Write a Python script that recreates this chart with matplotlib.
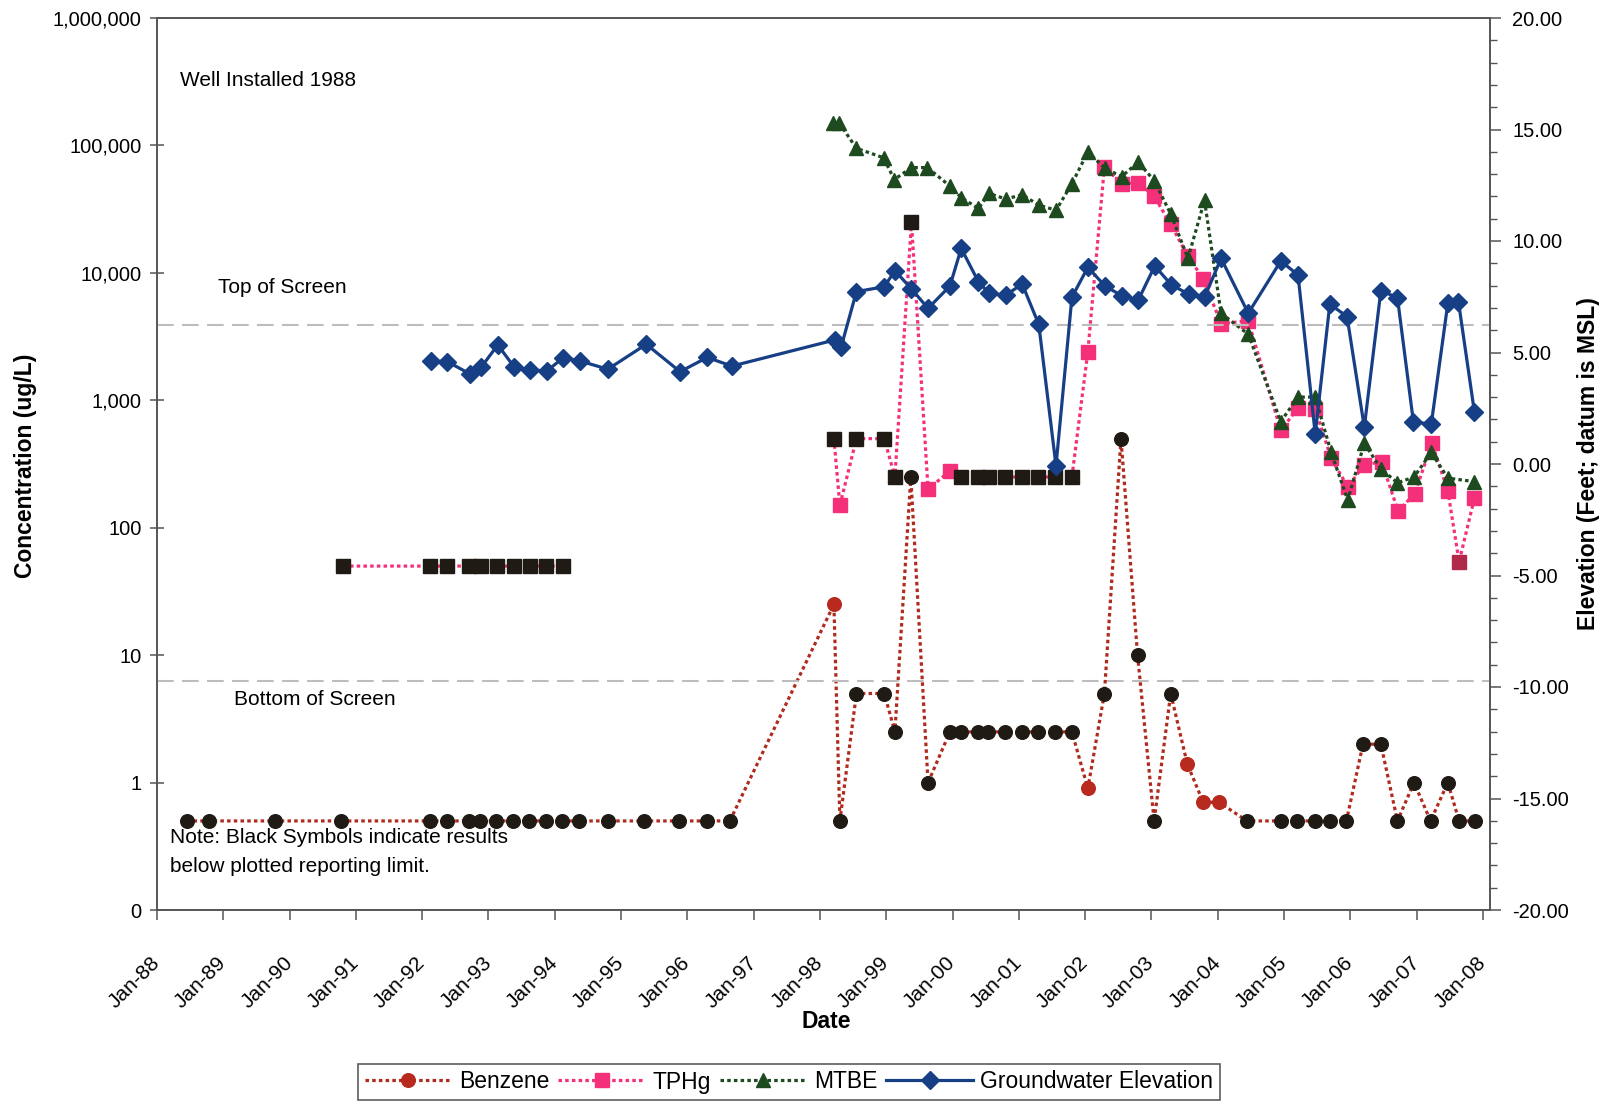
import matplotlib
matplotlib.use("Agg")
import matplotlib.pyplot as plt
from matplotlib.lines import Line2D
from matplotlib.ticker import FixedLocator, FuncFormatter, MultipleLocator
import numpy as np

plt.rcParams['font.family'] = ['Liberation Sans', 'DejaVu Sans']

# ==============================================================
# Monitoring data (sample dates in decimal years)
# nd = 1 -> result below reporting limit, plotted in black
# ==============================================================
benz_year = [1988.45, 1988.78, 1989.78, 1990.78, 1992.12, 1992.37, 1992.70, 1992.87,
             1993.12, 1993.37, 1993.61, 1993.86, 1994.11, 1994.36, 1994.81, 1995.34,
             1995.88, 1996.30, 1996.64, 1998.21, 1998.30, 1998.55, 1998.97, 1999.13,
             1999.37, 1999.63, 1999.96, 2000.12, 2000.38, 2000.54, 2000.79, 2001.04,
             2001.29, 2001.54, 2001.80, 2002.04, 2002.29, 2002.54, 2002.79, 2003.04,
             2003.29, 2003.54, 2003.78, 2004.02, 2004.44, 2004.95, 2005.20, 2005.46,
             2005.69, 2005.94, 2006.19, 2006.46, 2006.71, 2006.96, 2007.21, 2007.47,
             2007.64, 2007.88]
benz_ugl = [0.5, 0.5, 0.5, 0.5, 0.5, 0.5, 0.5, 0.5,
            0.5, 0.5, 0.5, 0.5, 0.5, 0.5, 0.5, 0.5,
            0.5, 0.5, 0.5, 25, 0.5, 5, 5, 2.5,
            250, 1, 2.5, 2.5, 2.5, 2.5, 2.5, 2.5,
            2.5, 2.5, 2.5, 0.9, 5, 500, 10, 0.5,
            5, 1.4, 0.7, 0.7, 0.5, 0.5, 0.5, 0.5,
            0.5, 0.5, 2, 2, 0.5, 1, 0.5, 1,
            0.5, 0.5]
benz_nd = [1, 1, 1, 1, 1, 1, 1, 1,
           1, 1, 1, 1, 1, 1, 1, 1,
           1, 1, 1, 0, 1, 1, 1, 1,
           1, 1, 1, 1, 1, 1, 1, 1,
           1, 1, 1, 0, 1, 1, 1, 1,
           1, 0, 0, 0, 1, 1, 1, 1,
           1, 1, 1, 1, 1, 1, 1, 1,
           1, 1]

# TPHg: None marks the break in the record between 1994 and 1998
tph_year = [1990.81, 1992.12, 1992.38, 1992.71, 1992.88, 1993.13, 1993.38, 1993.62,
            1993.87, 1994.12, 1996.30, 1998.21, 1998.30, 1998.55, 1998.97, 1999.13,
            1999.38, 1999.63, 1999.96, 2000.13, 2000.39, 2000.55, 2000.79, 2001.04,
            2001.29, 2001.54, 2001.80, 2002.04, 2002.29, 2002.55, 2002.80, 2003.04,
            2003.29, 2003.55, 2003.78, 2004.05, 2004.46, 2004.95, 2005.21, 2005.47,
            2005.71, 2005.96, 2006.21, 2006.47, 2006.72, 2006.97, 2007.23, 2007.47,
            2007.64, 2007.87]
tph_ugl = [50, 50, 50, 50, 50, 50, 50, 50,
           50, 50, None, 500, 150, 500, 500, 250,
           25000, 200, 280, 250, 250, 250, 250, 250,
           250, 250, 250, 2400, 68000, 50000, 51000, 40000,
           24000, 13500, 9000, 4000, 4200, 580, 870, 850,
           350, 210, 310, 330, 135, 185, 460, 195,
           54, 170]
# 0 = detected, 1 = below reporting limit, 2 = qualified result
tph_flag = [1, 1, 1, 1, 1, 1, 1, 1,
            1, 1, 0, 1, 0, 1, 1, 1,
            1, 0, 0, 1, 1, 1, 1, 1,
            1, 1, 1, 0, 0, 0, 0, 0,
            0, 0, 0, 0, 0, 0, 0, 0,
            0, 0, 0, 0, 0, 0, 0, 0,
            2, 0]

mtbe_year = [1998.19, 1998.29, 1998.55, 1998.96, 1999.12, 1999.38, 1999.62, 1999.96,
             2000.13, 2000.39, 2000.55, 2000.80, 2001.05, 2001.30, 2001.56, 2001.80,
             2002.04, 2002.30, 2002.55, 2002.80, 2003.04, 2003.29, 2003.55, 2003.80,
             2004.05, 2004.46, 2004.95, 2005.21, 2005.47, 2005.71, 2005.96, 2006.21,
             2006.46, 2006.71, 2006.96, 2007.22, 2007.47, 2007.87]
mtbe_ugl = [150000, 150000, 95000, 80000, 54000, 67000, 67000, 48000,
            39000, 32000, 42000, 38000, 41000, 34000, 31000, 50000,
            89000, 66000, 57000, 74000, 53000, 29000, 13000, 37000,
            4800, 3300, 680, 1060, 1060, 390, 165, 460,
            290, 225, 250, 390, 245, 230]

gw_year = [1992.13, 1992.38, 1992.72, 1992.89, 1993.14, 1993.39, 1993.63, 1993.88,
           1994.13, 1994.38, 1994.80, 1995.38, 1995.89, 1996.30, 1996.67, 1998.22,
           1998.32, 1998.55, 1998.97, 1999.13, 1999.38, 1999.63, 1999.96, 2000.13,
           2000.39, 2000.55, 2000.80, 2001.05, 2001.30, 2001.56, 2001.80, 2002.04,
           2002.30, 2002.55, 2002.80, 2003.05, 2003.30, 2003.56, 2003.80, 2004.05,
           2004.46, 2004.95, 2005.21, 2005.47, 2005.69, 2005.95, 2006.21, 2006.46,
           2006.71, 2006.95, 2007.22, 2007.47, 2007.63, 2007.87]
gw_elev = [4.62, 4.59, 4.04, 4.34, 5.34, 4.34, 4.22, 4.17,
           4.77, 4.62, 4.25, 5.37, 4.14, 4.78, 4.39, 5.56,
           5.26, 7.73, 7.95, 8.67, 7.85, 6.98, 7.98, 9.67,
           8.17, 7.65, 7.57, 8.07, 6.26, -0.08, 7.48, 8.82,
           7.98, 7.55, 7.35, 8.88, 8.03, 7.62, 7.48, 9.22,
           6.76, 9.10, 8.48, 1.35, 7.17, 6.61, 1.65, 7.77,
           7.46, 1.90, 1.78, 7.21, 7.28, 2.35]

screen_top = 6.25
screen_bottom = -9.75

year_ticks = list(range(1988, 2009))

# ==============================================================
# Estilos
# ==============================================================
BENZ_LINE = '#B02A1E'
BENZ_RED = '#B82A1E'
TPH_PINK = '#F5307A'
TPH_QUAL = '#B0284A'
MTBE_GREEN = '#1D4A1F'
GW_BLUE = '#173F86'
ND_BLACK = '#201A14'
DOT = (0, (1.1, 1.0))
SPINE = '#555555'

fig = plt.figure(figsize=(16.1, 11.02), dpi=100)
ax = fig.add_axes([157 / 1610, 1 - 910 / 1102, 1333 / 1610, 892 / 1102])
ax2 = ax.twinx()


def plot_conc(year, val, flag, line_color, marker_colors, marker, ms, z):
    x = np.array(year, dtype=float)
    y = np.array(val, dtype=float)
    f = np.array(flag)
    ax.plot(x, y, ls=DOT, color=line_color, lw=2.3, zorder=z)
    for code, col in marker_colors.items():
        m = f == code
        ax.plot(x[m], y[m], ls='none', marker=marker, ms=ms, mfc=col, mec=col, zorder=z + 0.5)


plot_conc(benz_year, benz_ugl, benz_nd, BENZ_LINE, {0: BENZ_RED, 1: ND_BLACK}, 'o', 9.8, 2)
plot_conc(tph_year, tph_ugl, tph_flag, TPH_PINK, {0: TPH_PINK, 1: ND_BLACK, 2: TPH_QUAL}, 's', 10.5, 3)
plot_conc(mtbe_year, mtbe_ugl, [0] * len(mtbe_year), MTBE_GREEN, {0: MTBE_GREEN}, '^', 10.5, 4)

ax.set_yscale('log')
ax.set_ylim(0.1, 1e6)
ax.set_xlim(1988, 2008.106)
ax.yaxis.set_major_locator(FixedLocator([0.1, 1, 10, 100, 1e3, 1e4, 1e5, 1e6]))
ax.yaxis.set_minor_locator(FixedLocator([]))
ax.yaxis.set_major_formatter(FuncFormatter(lambda v, p: '0' if v < 1 else f'{v:,.0f}'))
ax.xaxis.set_major_locator(FixedLocator(year_ticks))
ax.xaxis.set_major_formatter(FuncFormatter(lambda v, p: f'Jan-{int(round(v)) % 100:02d}'))
ax.tick_params(axis='y', direction='inout', length=10, width=1.1, color=SPINE,
               labelsize=14.5, pad=6)
ax.tick_params(axis='x', direction='out', length=7, width=1.1, color=SPINE,
               labelsize=15, pad=29)
for lab in ax.get_xticklabels():
    lab.set_rotation(45)
    lab.set_ha('right')
    lab.set_va('center')
    lab.set_rotation_mode('anchor')

# ==============================================================
# Elevación del agua subterránea (eje derecho)
# ==============================================================
ax2.axhline(screen_top, color='#BDBDBD', lw=1.5, ls=(0, (8, 4)), zorder=1)
ax2.axhline(screen_bottom, color='#BDBDBD', lw=1.5, ls=(0, (8, 4)), zorder=1)
ax2.plot(gw_year, gw_elev, color=GW_BLUE, lw=2.3, marker='D', ms=9.5,
         mfc=GW_BLUE, mec=GW_BLUE, zorder=5)
ax2.set_ylim(-20, 20)
ax2.yaxis.set_major_locator(MultipleLocator(5))
ax2.yaxis.set_minor_locator(MultipleLocator(1))
ax2.yaxis.set_major_formatter(FuncFormatter(lambda v, p: f'{v:.2f}'))
ax2.tick_params(axis='y', which='major', direction='out', length=8, width=1.1,
                color=SPINE, labelsize=14.5, pad=8)
ax2.tick_params(axis='y', which='minor', direction='out', length=5, width=1.0, color=SPINE)

for a in (ax, ax2):
    for s in a.spines.values():
        s.set_color(SPINE)
        s.set_linewidth(1.2)

# etiquetas de ejes
ax.set_ylabel('Concentration (ug/L)', fontsize=16.5, fontweight='bold')
ax.yaxis.set_label_coords(-0.090, 0.498)
ax2.set_ylabel('Elevation (Feet; datum is MSL)', fontsize=16.5, fontweight='bold')
ax2.yaxis.set_label_coords(1.0653, 0.50)
ax.set_xlabel('Date', fontsize=16.5, fontweight='bold')
ax.xaxis.set_label_coords(0.502, -0.112)

# notas
ax.text(0.017, 0.930, 'Well Installed 1988', transform=ax.transAxes, fontsize=15, va='center')
ax.text(0.046, 0.698, 'Top of Screen', transform=ax.transAxes, fontsize=15, va='center')
ax.text(0.058, 0.2365, 'Bottom of Screen', transform=ax.transAxes, fontsize=15, va='center')
ax.text(0.0098, 0.081, 'Note: Black Symbols indicate results', transform=ax.transAxes,
        fontsize=15, va='center')
ax.text(0.0098, 0.0493, 'below plotted reporting limit.', transform=ax.transAxes,
        fontsize=15, va='center')

# leyenda
handles = [
    Line2D([], [], color=BENZ_LINE, ls=DOT, lw=2.3, marker='o', ms=9.8, mfc=BENZ_RED, mec=BENZ_RED),
    Line2D([], [], color=TPH_PINK, ls=DOT, lw=2.3, marker='s', ms=10.5, mfc=TPH_PINK, mec=TPH_PINK),
    Line2D([], [], color=MTBE_GREEN, ls=DOT, lw=2.3, marker='^', ms=10.5, mfc=MTBE_GREEN, mec=MTBE_GREEN),
    Line2D([], [], color=GW_BLUE, lw=2.3, marker='D', ms=9.5, mfc=GW_BLUE, mec=GW_BLUE),
]
leg = fig.legend(handles, ['Benzene', 'TPHg', 'MTBE', 'Groundwater Elevation'],
                 loc='center', bbox_to_anchor=(789 / 1610, 1 - 1082 / 1102), ncol=4,
                 fontsize=16.5, frameon=True, fancybox=False, edgecolor='#333333',
                 handlelength=3.8, handletextpad=0.3, columnspacing=0.4,
                 borderpad=0.3, borderaxespad=0)
leg.get_frame().set_linewidth(1.2)

fig.savefig('out.png', dpi=100, facecolor='white')
